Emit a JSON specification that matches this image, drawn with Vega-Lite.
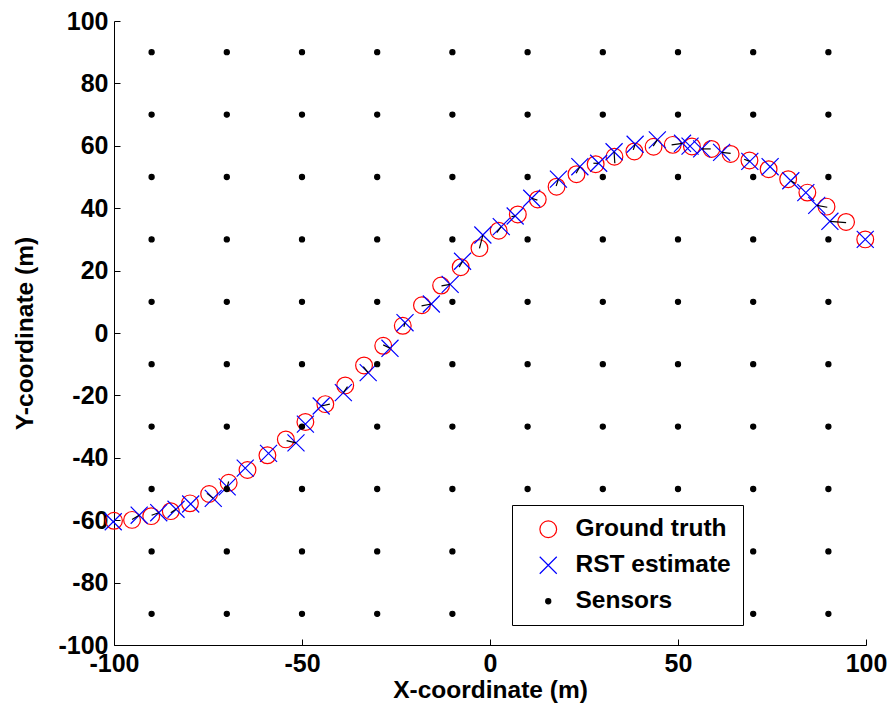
{
  "$schema": "https://vega.github.io/schema/vega-lite/v6.json",
  "width": 752,
  "height": 624,
  "autosize": "none",
  "padding": {"left": 114, "top": 21, "right": 22, "bottom": 68},
  "background": "white",
  "config": {
    "view": {"stroke": null},
    "font": "Liberation Sans",
    "axis": {
      "grid": false,
      "labelFont": "Liberation Sans",
      "labelFontSize": 25,
      "labelFontWeight": "bold",
      "labelColor": "black",
      "labelFlush": false,
      "labelOverlap": false,
      "labelExpr": "'' + datum.value",
      "titleFont": "Liberation Sans",
      "titleFontSize": 24.5,
      "titleFontWeight": "bold",
      "titleColor": "black",
      "domainColor": "black",
      "domainWidth": 1,
      "tickColor": "black",
      "tickWidth": 1,
      "tickSize": -6
    }
  },
  "datasets": {
    "segs": [
      {"x": -95.2, "y": -59.8, "x2": -93.3, "y2": -58.4},
      {"x": -90.0, "y": -58.4, "x2": -88.1, "y2": -57.6},
      {"x": -84.9, "y": -57.6, "x2": -83.5, "y2": -56.5},
      {"x": -75.3, "y": -51.4, "x2": -73.6, "y2": -53.0},
      {"x": -69.5, "y": -47.6, "x2": -69.9, "y2": -49.3},
      {"x": -54.1, "y": -34.5, "x2": -51.6, "y2": -35.2},
      {"x": -42.6, "y": -22.8, "x2": -44.9, "y2": -23.4},
      {"x": -37.9, "y": -17.2, "x2": -39.0, "y2": -19.1},
      {"x": -33.7, "y": -10.8, "x2": -32.4, "y2": -12.7},
      {"x": -28.4, "y": -3.8, "x2": -26.6, "y2": -4.9},
      {"x": -22.9, "y": 2.0, "x2": -22.6, "y2": 3.3},
      {"x": -18.2, "y": 8.7, "x2": -15.6, "y2": 9.3},
      {"x": -12.9, "y": 15.1, "x2": -10.6, "y2": 15.6},
      {"x": -8.2, "y": 21.1, "x2": -7.3, "y2": 23.0},
      {"x": -2.8, "y": 27.1, "x2": -1.9, "y2": 31.4},
      {"x": 1.8, "y": 32.2, "x2": 3.0, "y2": 34.1},
      {"x": 5.7, "y": 37.3, "x2": 6.7, "y2": 37.5},
      {"x": 12.6, "y": 42.6, "x2": 11.1, "y2": 43.2},
      {"x": 17.6, "y": 47.1, "x2": 18.2, "y2": 49.3},
      {"x": 22.9, "y": 51.2, "x2": 23.9, "y2": 53.3},
      {"x": 27.5, "y": 54.4, "x2": 28.9, "y2": 54.4},
      {"x": 33.2, "y": 54.4, "x2": 33.0, "y2": 58.1},
      {"x": 38.1, "y": 58.7, "x2": 38.6, "y2": 60.5},
      {"x": 43.4, "y": 59.9, "x2": 44.5, "y2": 61.9},
      {"x": 48.3, "y": 60.3, "x2": 51.2, "y2": 60.8},
      {"x": 58.7, "y": 59.0, "x2": 56.3, "y2": 59.0},
      {"x": 64.0, "y": 57.6, "x2": 61.6, "y2": 57.9},
      {"x": 67.6, "y": 55.7, "x2": 69.1, "y2": 55.0},
      {"x": 81.1, "y": 48.0, "x2": 80.0, "y2": 48.8},
      {"x": 89.7, "y": 40.3, "x2": 86.9, "y2": 40.9},
      {"x": 94.7, "y": 35.4, "x2": 90.4, "y2": 35.8}
    ],
    "pts": [
      {"series": "Ground truth", "x": -100, "y": -60.2},
      {"series": "Ground truth", "x": -95.2, "y": -59.9},
      {"series": "Ground truth", "x": -90.1, "y": -58.7},
      {"series": "Ground truth", "x": -84.9, "y": -57.1},
      {"series": "Ground truth", "x": -79.8, "y": -54.6},
      {"series": "Ground truth", "x": -74.7, "y": -51.6},
      {"series": "Ground truth", "x": -69.5, "y": -48.0},
      {"series": "Ground truth", "x": -64.5, "y": -43.9},
      {"series": "Ground truth", "x": -59.2, "y": -39.2},
      {"series": "Ground truth", "x": -54.3, "y": -34.1},
      {"series": "Ground truth", "x": -49.1, "y": -28.5},
      {"series": "Ground truth", "x": -43.8, "y": -22.8},
      {"series": "Ground truth", "x": -38.5, "y": -16.8},
      {"series": "Ground truth", "x": -33.5, "y": -10.4},
      {"series": "Ground truth", "x": -28.4, "y": -4.1},
      {"series": "Ground truth", "x": -23.2, "y": 2.3},
      {"series": "Ground truth", "x": -18.1, "y": 8.9},
      {"series": "Ground truth", "x": -13.0, "y": 15.2},
      {"series": "Ground truth", "x": -7.8, "y": 21.1},
      {"series": "Ground truth", "x": -2.8, "y": 27.2},
      {"series": "Ground truth", "x": 2.3, "y": 32.8},
      {"series": "Ground truth", "x": 7.4, "y": 38.0},
      {"series": "Ground truth", "x": 12.7, "y": 42.8},
      {"series": "Ground truth", "x": 17.7, "y": 46.9},
      {"series": "Ground truth", "x": 23.0, "y": 50.9},
      {"series": "Ground truth", "x": 28.1, "y": 54.1},
      {"series": "Ground truth", "x": 33.1, "y": 56.5},
      {"series": "Ground truth", "x": 38.4, "y": 58.2},
      {"series": "Ground truth", "x": 43.5, "y": 59.7},
      {"series": "Ground truth", "x": 48.6, "y": 60.3},
      {"series": "Ground truth", "x": 53.7, "y": 59.8},
      {"series": "Ground truth", "x": 58.9, "y": 59.0},
      {"series": "Ground truth", "x": 64.0, "y": 57.4},
      {"series": "Ground truth", "x": 69.0, "y": 55.3},
      {"series": "Ground truth", "x": 74.1, "y": 52.5},
      {"series": "Ground truth", "x": 79.3, "y": 49.3},
      {"series": "Ground truth", "x": 84.4, "y": 45.0},
      {"series": "Ground truth", "x": 89.5, "y": 40.5},
      {"series": "Ground truth", "x": 94.7, "y": 35.6},
      {"series": "Ground truth", "x": 99.8, "y": 30.0},
      {"series": "RST estimate", "x": -100.2, "y": -60.5},
      {"series": "RST estimate", "x": -93.3, "y": -58.4},
      {"series": "RST estimate", "x": -88.1, "y": -57.6},
      {"series": "RST estimate", "x": -83.5, "y": -56.5},
      {"series": "RST estimate", "x": -79.6, "y": -54.8},
      {"series": "RST estimate", "x": -73.6, "y": -53.0},
      {"series": "RST estimate", "x": -69.9, "y": -49.3},
      {"series": "RST estimate", "x": -65.1, "y": -43.3},
      {"series": "RST estimate", "x": -58.9, "y": -38.6},
      {"series": "RST estimate", "x": -51.6, "y": -35.2},
      {"series": "RST estimate", "x": -49.1, "y": -29.2},
      {"series": "RST estimate", "x": -44.9, "y": -23.4},
      {"series": "RST estimate", "x": -39.0, "y": -19.1},
      {"series": "RST estimate", "x": -32.4, "y": -12.7},
      {"series": "RST estimate", "x": -26.6, "y": -4.9},
      {"series": "RST estimate", "x": -22.6, "y": 3.3},
      {"series": "RST estimate", "x": -15.6, "y": 9.3},
      {"series": "RST estimate", "x": -10.6, "y": 15.6},
      {"series": "RST estimate", "x": -7.3, "y": 23.0},
      {"series": "RST estimate", "x": -1.9, "y": 31.4},
      {"series": "RST estimate", "x": 3.0, "y": 34.1},
      {"series": "RST estimate", "x": 6.7, "y": 37.5},
      {"series": "RST estimate", "x": 11.1, "y": 43.2},
      {"series": "RST estimate", "x": 18.2, "y": 49.3},
      {"series": "RST estimate", "x": 23.9, "y": 53.3},
      {"series": "RST estimate", "x": 28.9, "y": 54.4},
      {"series": "RST estimate", "x": 33.0, "y": 58.1},
      {"series": "RST estimate", "x": 38.6, "y": 60.5},
      {"series": "RST estimate", "x": 44.5, "y": 61.9},
      {"series": "RST estimate", "x": 51.2, "y": 60.8},
      {"series": "RST estimate", "x": 53.2, "y": 59.9},
      {"series": "RST estimate", "x": 56.3, "y": 59.0},
      {"series": "RST estimate", "x": 61.6, "y": 57.9},
      {"series": "RST estimate", "x": 69.1, "y": 55.0},
      {"series": "RST estimate", "x": 74.5, "y": 53.3},
      {"series": "RST estimate", "x": 80.0, "y": 48.8},
      {"series": "RST estimate", "x": 84.0, "y": 45.0},
      {"series": "RST estimate", "x": 86.9, "y": 40.9},
      {"series": "RST estimate", "x": 90.4, "y": 35.8},
      {"series": "RST estimate", "x": 99.8, "y": 30.0},
      {"series": "Sensors", "x": -90, "y": -90}, {"series": "Sensors", "x": -90, "y": -70}, {"series": "Sensors", "x": -90, "y": -50}, {"series": "Sensors", "x": -90, "y": -30}, {"series": "Sensors", "x": -90, "y": -10}, {"series": "Sensors", "x": -90, "y": 10}, {"series": "Sensors", "x": -90, "y": 30}, {"series": "Sensors", "x": -90, "y": 50}, {"series": "Sensors", "x": -90, "y": 70}, {"series": "Sensors", "x": -90, "y": 90},
      {"series": "Sensors", "x": -70, "y": -90}, {"series": "Sensors", "x": -70, "y": -70}, {"series": "Sensors", "x": -70, "y": -50}, {"series": "Sensors", "x": -70, "y": -30}, {"series": "Sensors", "x": -70, "y": -10}, {"series": "Sensors", "x": -70, "y": 10}, {"series": "Sensors", "x": -70, "y": 30}, {"series": "Sensors", "x": -70, "y": 50}, {"series": "Sensors", "x": -70, "y": 70}, {"series": "Sensors", "x": -70, "y": 90},
      {"series": "Sensors", "x": -50, "y": -90}, {"series": "Sensors", "x": -50, "y": -70}, {"series": "Sensors", "x": -50, "y": -50}, {"series": "Sensors", "x": -50, "y": -30}, {"series": "Sensors", "x": -50, "y": -10}, {"series": "Sensors", "x": -50, "y": 10}, {"series": "Sensors", "x": -50, "y": 30}, {"series": "Sensors", "x": -50, "y": 50}, {"series": "Sensors", "x": -50, "y": 70}, {"series": "Sensors", "x": -50, "y": 90},
      {"series": "Sensors", "x": -30, "y": -90}, {"series": "Sensors", "x": -30, "y": -70}, {"series": "Sensors", "x": -30, "y": -50}, {"series": "Sensors", "x": -30, "y": -30}, {"series": "Sensors", "x": -30, "y": -10}, {"series": "Sensors", "x": -30, "y": 10}, {"series": "Sensors", "x": -30, "y": 30}, {"series": "Sensors", "x": -30, "y": 50}, {"series": "Sensors", "x": -30, "y": 70}, {"series": "Sensors", "x": -30, "y": 90},
      {"series": "Sensors", "x": -10, "y": -90}, {"series": "Sensors", "x": -10, "y": -70}, {"series": "Sensors", "x": -10, "y": -50}, {"series": "Sensors", "x": -10, "y": -30}, {"series": "Sensors", "x": -10, "y": -10}, {"series": "Sensors", "x": -10, "y": 10}, {"series": "Sensors", "x": -10, "y": 30}, {"series": "Sensors", "x": -10, "y": 50}, {"series": "Sensors", "x": -10, "y": 70}, {"series": "Sensors", "x": -10, "y": 90},
      {"series": "Sensors", "x": 10, "y": -90}, {"series": "Sensors", "x": 10, "y": -70}, {"series": "Sensors", "x": 10, "y": -50}, {"series": "Sensors", "x": 10, "y": -30}, {"series": "Sensors", "x": 10, "y": -10}, {"series": "Sensors", "x": 10, "y": 10}, {"series": "Sensors", "x": 10, "y": 30}, {"series": "Sensors", "x": 10, "y": 50}, {"series": "Sensors", "x": 10, "y": 70}, {"series": "Sensors", "x": 10, "y": 90},
      {"series": "Sensors", "x": 30, "y": -90}, {"series": "Sensors", "x": 30, "y": -70}, {"series": "Sensors", "x": 30, "y": -50}, {"series": "Sensors", "x": 30, "y": -30}, {"series": "Sensors", "x": 30, "y": -10}, {"series": "Sensors", "x": 30, "y": 10}, {"series": "Sensors", "x": 30, "y": 30}, {"series": "Sensors", "x": 30, "y": 50}, {"series": "Sensors", "x": 30, "y": 70}, {"series": "Sensors", "x": 30, "y": 90},
      {"series": "Sensors", "x": 50, "y": -90}, {"series": "Sensors", "x": 50, "y": -70}, {"series": "Sensors", "x": 50, "y": -50}, {"series": "Sensors", "x": 50, "y": -30}, {"series": "Sensors", "x": 50, "y": -10}, {"series": "Sensors", "x": 50, "y": 10}, {"series": "Sensors", "x": 50, "y": 30}, {"series": "Sensors", "x": 50, "y": 50}, {"series": "Sensors", "x": 50, "y": 70}, {"series": "Sensors", "x": 50, "y": 90},
      {"series": "Sensors", "x": 70, "y": -90}, {"series": "Sensors", "x": 70, "y": -70}, {"series": "Sensors", "x": 70, "y": -50}, {"series": "Sensors", "x": 70, "y": -30}, {"series": "Sensors", "x": 70, "y": -10}, {"series": "Sensors", "x": 70, "y": 10}, {"series": "Sensors", "x": 70, "y": 30}, {"series": "Sensors", "x": 70, "y": 50}, {"series": "Sensors", "x": 70, "y": 70}, {"series": "Sensors", "x": 70, "y": 90},
      {"series": "Sensors", "x": 90, "y": -90}, {"series": "Sensors", "x": 90, "y": -70}, {"series": "Sensors", "x": 90, "y": -50}, {"series": "Sensors", "x": 90, "y": -30}, {"series": "Sensors", "x": 90, "y": -10}, {"series": "Sensors", "x": 90, "y": 10}, {"series": "Sensors", "x": 90, "y": 30}, {"series": "Sensors", "x": 90, "y": 50}, {"series": "Sensors", "x": 90, "y": 70}, {"series": "Sensors", "x": 90, "y": 90}
    ]
  },
  "layer": [
    {
      "data": {"name": "pts"},
      "mark": {"type": "point", "strokeWidth": 1.2, "opacity": 1},
      "encoding": {
        "x": {
          "field": "x", "type": "quantitative",
          "scale": {"domain": [-100, 100], "nice": false, "zero": false},
          "axis": {"values": [-100, -50, 0, 50, 100], "title": "X-coordinate (m)", "titlePadding": 2, "labelPadding": 12}
        },
        "y": {
          "field": "y", "type": "quantitative",
          "scale": {"domain": [-100, 100], "nice": false, "zero": false},
          "axis": {"values": [-100, -80, -60, -40, -20, 0, 20, 40, 60, 80, 100], "title": "Y-coordinate (m)", "titleX": -77, "titleY": 312, "labelPadding": 12}
        },
        "stroke": {
          "field": "series", "type": "nominal",
          "scale": {"domain": ["Ground truth", "RST estimate", "Sensors"], "range": ["#ff0000", "#0000ff", "#000000"]},
          "legend": {
            "title": null,
            "orient": "none",
            "legendX": 398,
            "legendY": 484,
            "direction": "vertical",
            "strokeColor": "black",
            "fillColor": "white",
            "padding": 12,
            "labelFont": "Liberation Sans",
            "labelFontSize": 24.5,
            "labelFontWeight": "bold",
            "labelColor": "black",
            "labelOffset": 15,
            "symbolOffset": 12,
            "rowPadding": 11,
            "symbolStrokeWidth": 1.2,
            "symbolOpacity": 1
          }
        },
        "fill": {
          "field": "series", "type": "nominal",
          "scale": {"domain": ["Ground truth", "RST estimate", "Sensors"], "range": ["transparent", "transparent", "#000000"]}
        },
        "shape": {
          "field": "series", "type": "nominal",
          "scale": {"domain": ["Ground truth", "RST estimate", "Sensors"], "range": ["circle", "M-1,-1L1,1M-1,1L1,-1", "circle"]}
        },
        "size": {
          "field": "series", "type": "nominal",
          "scale": {"type": "ordinal", "domain": ["Ground truth", "RST estimate", "Sensors"], "range": [280, 290, 26]}
        }
      }
    },
    {
      "data": {"name": "segs"},
      "mark": {"type": "rule", "color": "black", "strokeWidth": 1.2},
      "encoding": {
        "x": {"field": "x", "type": "quantitative"},
        "y": {"field": "y", "type": "quantitative"},
        "x2": {"field": "x2"},
        "y2": {"field": "y2"}
      }
    }
  ]
}
